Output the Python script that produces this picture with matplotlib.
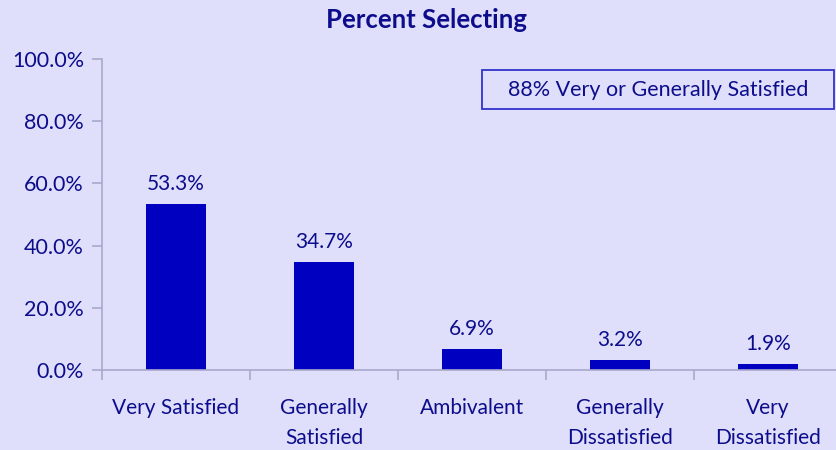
import matplotlib
matplotlib.use("Agg")
import matplotlib.pyplot as plt
from matplotlib.patches import Rectangle
from matplotlib.ticker import FuncFormatter

plt.rcParams["font.family"] = ["Lato", "DejaVu Sans"]

categories = ["Very Satisfied", "Generally\nSatisfied", "Ambivalent",
              "Generally\nDissatisfied", "Very\nDissatisfied"]
percents = [53.3, 34.7, 6.9, 3.2, 1.9]
y_ticks = [0, 20, 40, 60, 80, 100]
title = "Percent Selecting"
note = "88% Very or Generally Satisfied"

BG = "#DFDFFC"
BAR = "#0000C0"
TXT = "#0D0D8C"
SPINE = "#A8A8CC"

fig = plt.figure(figsize=(8.36, 4.5), dpi=100, facecolor=BG)
ax = fig.add_axes([102 / 836, 80 / 450, 740 / 836, 311 / 450])
ax.set_facecolor(BG)

x = range(len(categories))
ax.bar(x, percents, width=0.4, color=BAR, zorder=2)
for xi, v in zip(x, percents):
    ax.text(xi, v + 6.4, f"{v:.1f}%", ha="center", va="center",
            fontsize=15, color=TXT)

ax.set_xlim(-0.5, len(categories) - 0.5)
ax.set_ylim(0, 100)
ax.set_yticks(y_ticks)
ax.yaxis.set_major_formatter(FuncFormatter(lambda v, p: f"{v:.1f}%"))
ax.set_xticks([i - 0.5 for i in range(len(categories) + 1)])
ax.set_xticklabels([])
ax.set_xticks(list(x), minor=True)
ax.set_xticklabels(categories, minor=True, linespacing=1.6)
ax.tick_params(axis="x", which="minor", length=0, pad=20.5, labelsize=15, labelcolor=TXT)
ax.tick_params(axis="x", which="major", length=7, direction="out", color=SPINE, width=1.2)
ax.tick_params(axis="y", length=7, direction="out", color=SPINE, width=1.2,
               labelsize=15.5, labelcolor=TXT, pad=6)

for s in ["top", "right"]:
    ax.spines[s].set_visible(False)
for s in ["left", "bottom"]:
    ax.spines[s].set_color(SPINE)
    ax.spines[s].set_linewidth(1.2)

fig.text(426 / 836, 1 - 20 / 450, title, ha="center", va="center", fontsize=18.5,
         fontweight="bold", color=TXT)

# annotation box
fig.patches.append(Rectangle((482 / 836, 1 - 109 / 450), 352 / 836, 39 / 450,
                             transform=fig.transFigure, facecolor=BG,
                             edgecolor="#3333CC", linewidth=1.3))
fig.text(658 / 836, 1 - 89.5 / 450, note, ha="center", va="center", fontsize=15.5,
         color=TXT)

plt.savefig("out.png", dpi=100, facecolor=BG)
plt.close()
